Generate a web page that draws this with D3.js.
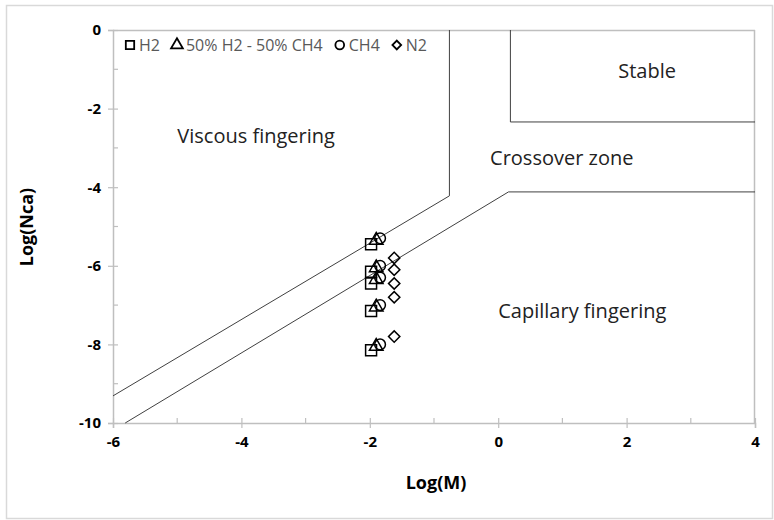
<!DOCTYPE html>
<html><head><meta charset="utf-8">
<script src="https://cdn.jsdelivr.net/npm/d3@7"></script>
<style>body{margin:0;background:#fff;} text{font-family:"Open Sans","Liberation Sans",sans-serif;}</style>
</head><body>
<svg id="c" width="774" height="520"></svg>
<script>
// Data
const xTicks = [-6, -4, -2, 0, 2, 4];
const yTicks = [0, -2, -4, -6, -8, -10];
const seriesNames = ["H2", "50% H2 - 50% CH4", "CH4", "N2"];
const h2X = [-1.98, -1.98, -1.98, -1.98, -1.98];
const h2Y = [-5.45, -6.15, -6.45, -7.15, -8.15];
const mixX = [-1.9, -1.9, -1.9, -1.9, -1.9];
const mixY = [-5.35, -6.05, -6.35, -7.05, -8.05];
const ch4X = [-1.84, -1.84, -1.84, -1.84, -1.84];
const ch4Y = [-5.3, -6.0, -6.3, -7.0, -8.0];
const n2X = [-1.62, -1.62, -1.62, -1.62, -1.62];
const n2Y = [-5.8, -6.1, -6.45, -6.8, -7.8];
// boundary lines
const upperBoundX = [-6, -0.76, -0.76];
const upperBoundY = [-9.31, -4.22, 0];
const lowerBoundX = [-5.81, 0.16, 4];
const lowerBoundY = [-10, -4.12, -4.12];
const stableX = [0.19, 0.19, 4];
const stableY = [0, -2.34, -2.34];
const regionLabels = ["Viscous fingering", "Stable", "Crossover zone", "Capillary fingering"];
const regionX = [-3.77, 2.32, 0.99, 1.31];
const regionY = [-2.88, -1.22, -3.43, -7.33];

const svg = d3.select("#c");
const L = 113, R = 755, T = 30, B = 423;
const x = d3.scaleLinear().domain([-6, 4]).range([L, R]);
const y = d3.scaleLinear().domain([-10, 0]).range([B, T]);
const grey = "#bfbfbf";

// outer border
svg.append("rect").attr("x", 6.5).attr("y", 5.5).attr("width", 766).attr("height", 513)
  .attr("fill", "none").attr("stroke", "#d9d9d9").attr("stroke-width", 1.5);

// plot border top/right
svg.append("line").attr("x1", L).attr("x2", R).attr("y1", T + 0.5).attr("y2", T + 0.5).attr("stroke", grey).attr("stroke-width", 1.5);
svg.append("line").attr("x1", R - 0.5).attr("x2", R - 0.5).attr("y1", T).attr("y2", B).attr("stroke", grey).attr("stroke-width", 1.5);

// axes
const fmt = d => String(d);
const xAxis = svg.append("g").attr("transform", `translate(0,${B})`)
  .call(d3.axisBottom(x).tickValues(xTicks).tickFormat(fmt).tickSize(5).tickPadding(8));
const yAxis = svg.append("g").attr("transform", `translate(${L},0)`)
  .call(d3.axisLeft(y).tickValues(yTicks).tickFormat(fmt).tickSize(5).tickPadding(7));
[xAxis, yAxis].forEach(g => {
  g.select(".domain").attr("stroke", grey).attr("stroke-width", 1.5);
  g.selectAll(".tick line").attr("stroke", grey).attr("stroke-width", 1.2);
  g.selectAll(".tick text").attr("font-size", 15).attr("font-weight", "bold").attr("fill", "#000")
    .style("font-family", "'Open Sans', sans-serif");
});
// major ticks cross inward too
xAxis.selectAll(".tick line").attr("y1", -5);
yAxis.selectAll(".tick line").attr("x1", 5);
// minor ticks (inside)
const xMinor = [-5, -3, -1, 1, 3];
const yMinor = [-1, -3, -5, -7, -9];
svg.append("g").selectAll("line").data(xMinor).join("line")
  .attr("x1", d => x(d)).attr("x2", d => x(d)).attr("y1", B).attr("y2", B - 5)
  .attr("stroke", grey).attr("stroke-width", 1.2);
svg.append("g").selectAll("line").data(yMinor).join("line")
  .attr("x1", L).attr("x2", L + 5).attr("y1", d => y(d)).attr("y2", d => y(d))
  .attr("stroke", grey).attr("stroke-width", 1.2);

// axis titles
svg.append("text").attr("x", 436).attr("y", 489).attr("text-anchor", "middle")
  .attr("font-size", 18).attr("font-weight", "bold").text("Log(M)");
svg.append("text").attr("transform", `translate(33,227) rotate(-90)`).attr("text-anchor", "middle")
  .attr("font-size", 18).attr("font-weight", "bold").text("Log(Nca)");

// boundary lines
const line = d3.line().x(d => x(d[0])).y(d => y(d[1]));
[[upperBoundX, upperBoundY], [lowerBoundX, lowerBoundY], [stableX, stableY]].forEach(([xs, ys]) => {
  svg.append("path").attr("d", line(d3.zip(xs, ys))).attr("fill", "none")
    .attr("stroke", "#404040").attr("stroke-width", 1);
});

// region labels
svg.append("g").selectAll("text").data(regionLabels).join("text")
  .attr("x", (d, i) => x(regionX[i])).attr("y", (d, i) => y(regionY[i]))
  .attr("text-anchor", "middle").attr("font-size", 20).attr("fill", "#222").text(d => d);

// markers
const sym = [d3.symbolSquare, d3.symbolTriangle, d3.symbolCircle, d3.symbolSquare];
const sizes = [120, 80, 90, 64];
const seriesX = [h2X, mixX, ch4X, n2X];
const seriesY = [h2Y, mixY, ch4Y, n2Y];
seriesX.forEach((xs, s) => {
  const gen = d3.symbol().type(sym[s]).size(sizes[s]);
  svg.append("g").selectAll("path").data(d3.zip(xs, seriesY[s])).join("path")
    .attr("transform", d => `translate(${x(d[0])},${y(d[1])})${s === 3 ? " rotate(45)" : ""}`)
    .attr("d", gen()).attr("fill", "none").attr("stroke", "#000").attr("stroke-width", 1.5);
});

// legend
const lg = svg.append("g").attr("transform", "translate(125,45)");
let lx = 0;
seriesNames.forEach((n, i) => {
  const gen = d3.symbol().type(sym[i]).size([70, 60, 60, 38][i]);
  lg.append("path").attr("transform", `translate(${lx + 5},0)${i === 3 ? " rotate(45)" : ""}`)
    .attr("d", gen()).attr("fill", "none").attr("stroke", "#000").attr("stroke-width", 1.8);
  const t = lg.append("text").attr("x", lx + 14).attr("y", 6).attr("font-size", 16).attr("fill", "#595959").text(n);
  lx += 14 + t.node().getComputedTextLength() + 12;
});
</script>
</body></html>
